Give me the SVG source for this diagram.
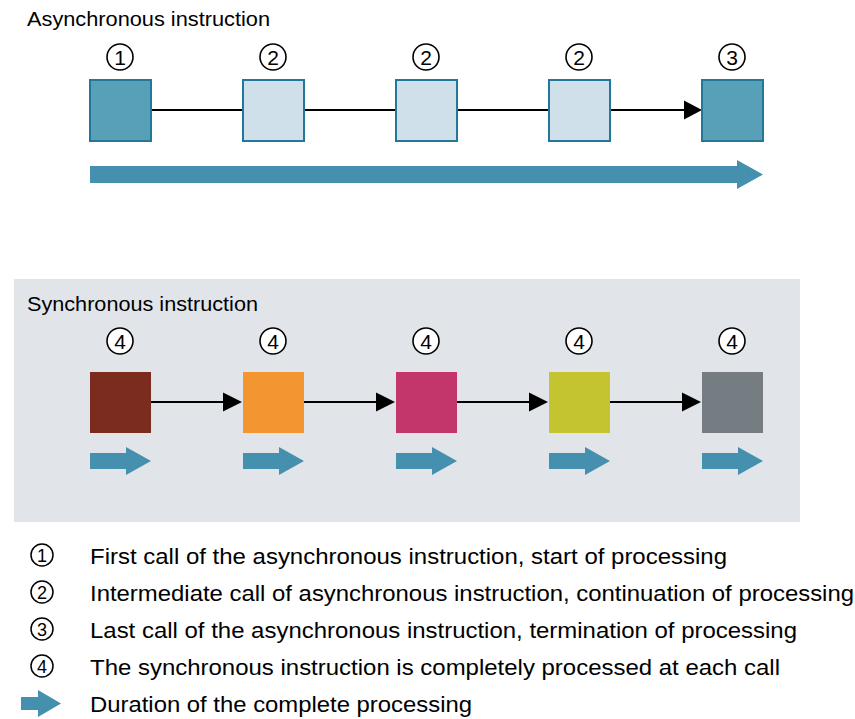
<svg xmlns="http://www.w3.org/2000/svg" width="855" height="719" viewBox="0 0 855 719">
<defs>
<style>
.t{font-family:"Liberation Sans",Arial,sans-serif;fill:#000}
.title{font-size:20px}
.leg{font-size:22px}
.num{font-size:21px;text-anchor:middle}
.lnum{font-size:18px;text-anchor:middle}
.c{fill:#fff;stroke:#000;stroke-width:1.6}
.lc{fill:none;stroke:#000;stroke-width:1.5}
.dark{fill:#57a0b8;stroke:#23789a;stroke-width:2}
.light{fill:#cfe0ea;stroke:#23789a;stroke-width:2}
.conn{stroke:#000;stroke-width:2;fill:none}
.ah{fill:#000}
.blue{fill:#4590ae}
</style>
</defs>
<rect width="855" height="719" fill="#fff"/>
<rect x="14" y="279" width="786" height="243" fill="#e1e5ea"/>

<text class="t title" x="27" y="26" textLength="243" lengthAdjust="spacingAndGlyphs">Asynchronous instruction</text>
<text class="t title" x="27" y="311" textLength="231" lengthAdjust="spacingAndGlyphs">Synchronous instruction</text>

<g id="connectors">
<line class="conn" x1="151" y1="110" x2="243" y2="110"/>
<line class="conn" x1="304" y1="110" x2="396" y2="110"/>
<line class="conn" x1="457" y1="110" x2="549" y2="110"/>
<line class="conn" x1="610" y1="110" x2="686" y2="110"/>
<polygon class="ah" points="684,100.5 702,110 684,119.5"/>
<line class="conn" x1="151" y1="402" x2="225" y2="402"/>
<polygon class="ah" points="223,392.5 242,402 223,411.5"/>
<line class="conn" x1="304" y1="402" x2="378" y2="402"/>
<polygon class="ah" points="376,392.5 395,402 376,411.5"/>
<line class="conn" x1="457" y1="402" x2="531" y2="402"/>
<polygon class="ah" points="529,392.5 548,402 529,411.5"/>
<line class="conn" x1="610" y1="402" x2="684" y2="402"/>
<polygon class="ah" points="682,392.5 701,402 682,411.5"/>
</g>

<g id="a1"><circle class="c" cx="120" cy="57" r="13"/><text class="t num" x="120" y="64.5">1</text><rect class="dark" x="90" y="80" width="61" height="61"/></g>
<g id="a2"><circle class="c" cx="273" cy="57" r="13"/><text class="t num" x="273" y="64.5">2</text><rect class="light" x="243" y="80" width="61" height="61"/></g>
<g id="a3"><circle class="c" cx="426" cy="57" r="13"/><text class="t num" x="426" y="64.5">2</text><rect class="light" x="396" y="80" width="61" height="61"/></g>
<g id="a4"><circle class="c" cx="579" cy="57" r="13"/><text class="t num" x="579" y="64.5">2</text><rect class="light" x="549" y="80" width="61" height="61"/></g>
<g id="a5"><circle class="c" cx="732" cy="57" r="13"/><text class="t num" x="732" y="64.5">3</text><rect class="dark" x="702" y="80" width="61" height="61"/></g>

<g id="bigarrow"><polygon class="blue" points="90,166 737,166 737,160 763,174.5 737,189 737,183 90,183"/></g>

<g id="s1"><circle class="c" cx="120" cy="341" r="13"/><text class="t num" x="120" y="348.5">4</text><rect x="90" y="372" width="61" height="61" fill="#7b2c1f"/><polygon class="blue" points="90,453 126,453 126,447 151,461 126,475 126,469 90,469"/></g>
<g id="s2"><circle class="c" cx="273" cy="341" r="13"/><text class="t num" x="273" y="348.5">4</text><rect x="243" y="372" width="61" height="61" fill="#f39530"/><polygon class="blue" points="243,453 279,453 279,447 304,461 279,475 279,469 243,469"/></g>
<g id="s3"><circle class="c" cx="426" cy="341" r="13"/><text class="t num" x="426" y="348.5">4</text><rect x="396" y="372" width="61" height="61" fill="#c3366b"/><polygon class="blue" points="396,453 432,453 432,447 457,461 432,475 432,469 396,469"/></g>
<g id="s4"><circle class="c" cx="579" cy="341" r="13"/><text class="t num" x="579" y="348.5">4</text><rect x="549" y="372" width="61" height="61" fill="#c4c431"/><polygon class="blue" points="549,453 585,453 585,447 610,461 585,475 585,469 549,469"/></g>
<g id="s5"><circle class="c" cx="732" cy="341" r="13"/><text class="t num" x="732" y="348.5">4</text><rect x="702" y="372" width="61" height="61" fill="#767d82"/><polygon class="blue" points="702,453 738,453 738,447 763,461 738,475 738,469 702,469"/></g>

<g id="legend">
<circle class="lc" cx="42" cy="555" r="11"/><text class="t lnum" x="42" y="561.5">1</text>
<text class="t leg" x="90" y="564" textLength="637" lengthAdjust="spacingAndGlyphs">First call of the asynchronous instruction, start of processing</text>
<circle class="lc" cx="42" cy="592" r="11"/><text class="t lnum" x="42" y="598.5">2</text>
<text class="t leg" x="90" y="601" textLength="764" lengthAdjust="spacingAndGlyphs">Intermediate call of asynchronous instruction, continuation of processing</text>
<circle class="lc" cx="42" cy="629" r="11"/><text class="t lnum" x="42" y="635.5">3</text>
<text class="t leg" x="90" y="638" textLength="707" lengthAdjust="spacingAndGlyphs">Last call of the asynchronous instruction, termination of processing</text>
<circle class="lc" cx="42" cy="666" r="11"/><text class="t lnum" x="42" y="672.5">4</text>
<text class="t leg" x="90" y="675" textLength="690" lengthAdjust="spacingAndGlyphs">The synchronous instruction is completely processed at each call</text>
<polygon class="blue" points="21,697 38,697 38,690 61,703.5 38,717 38,710 21,710"/>
<text class="t leg" x="90" y="712" textLength="382" lengthAdjust="spacingAndGlyphs">Duration of the complete processing</text>
</g>
</svg>
